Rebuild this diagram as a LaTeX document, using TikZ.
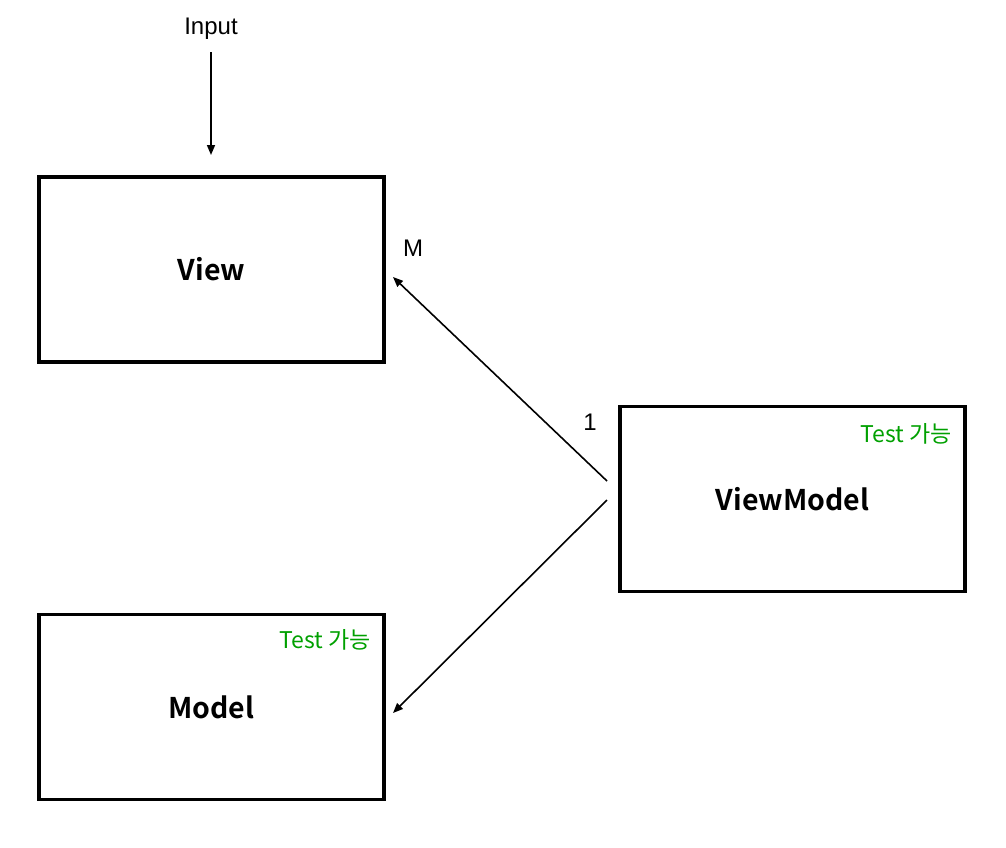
\documentclass[tikz,border=0pt]{standalone}
\usepackage{fontspec}
\setmainfont{Liberation Sans}
\newfontfamily\krfont{Noto Sans CJK KR}
\newfontfamily\krbold{Noto Sans CJK KR Bold}
\usetikzlibrary{arrows.meta}
\definecolor{testgreen}{RGB}{0,160,0}
\begin{document}
\begin{tikzpicture}[x=1pt,y=-1pt,
  box/.style={draw=black,line width=3.5pt,minimum width=345pt,minimum height=185pt,inner sep=0pt,
    font=\krbold\fontsize{28.5}{33}\selectfont},
  lbl/.style={font=\fontsize{24}{28}\selectfont,inner sep=0pt},
  testlbl/.style={font=\krfont\fontsize{23}{27}\selectfont,text=testgreen,inner sep=0pt},
  conn/.style={line width=1.6pt,-{Triangle[length=10pt,width=8pt]}}]
\useasboundingbox (0,0) rectangle (1006,847);
\node[box] (view) at (211.5,269.5) {View};
\node[box] (model) at (211.5,707) {Model};
\node[box] (vm) at (792.5,499) {ViewModel};
\node[lbl] (input) at (211,28.5) {Input};
\node[lbl] (m) at (413,248) {M};
\node[lbl] (one) at (590,422) {1};
\node[testlbl] (t1) at (906,434) {Test 가능};
\node[testlbl] (t2) at (325,640) {Test 가능};
\coordinate (inA) at (211,52);
\coordinate (inB) at (211,155);
\coordinate (vmA) at (607,481);
\coordinate (vA) at (393,277);
\coordinate (vmB) at (607,500);
\coordinate (mA) at (393,713);
\draw[conn] (inA) -- (inB);
\draw[conn] (vmA) -- (vA);
\draw[conn] (vmB) -- (mA);
\end{tikzpicture}
\end{document}
